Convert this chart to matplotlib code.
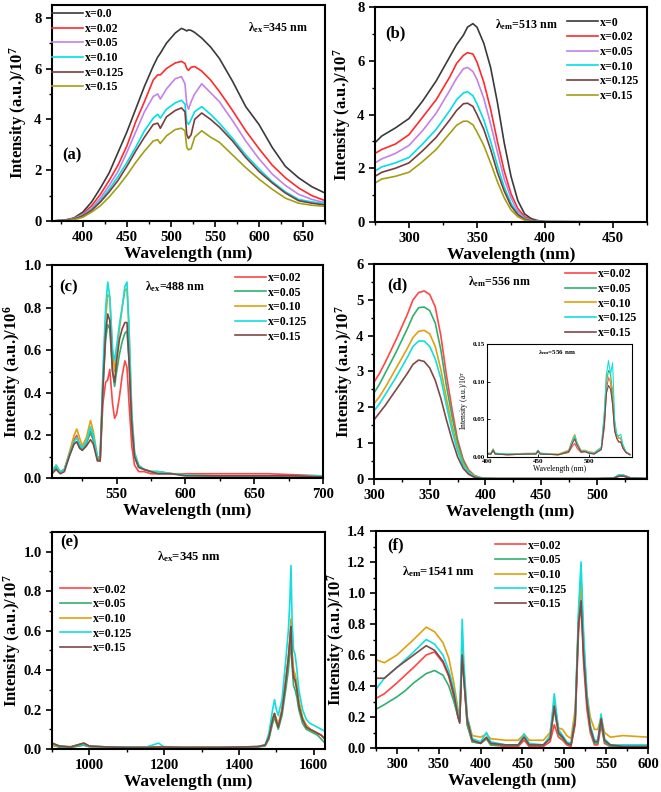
import numpy as np
import matplotlib
matplotlib.use("Agg")
import matplotlib.pyplot as plt
from matplotlib.ticker import AutoMinorLocator, MultipleLocator

plt.rcParams["font.family"] = ["Liberation Serif", "DejaVu Serif"]
plt.rcParams["font.weight"] = "bold"
plt.rcParams["axes.labelweight"] = "bold"
plt.rcParams["mathtext.fontset"] = "custom"
plt.rcParams["mathtext.rm"] = "Liberation Serif:bold"
plt.rcParams["mathtext.bf"] = "Liberation Serif:bold"
plt.rcParams["mathtext.it"] = "Liberation Serif:bold"
plt.rcParams["mathtext.default"] = "bf"

# ---------------- (a) emission, lambda_ex = 345 nm ----------------
a_wl = [365, 380, 390, 400, 410, 420, 430, 440, 450, 460, 470, 480, 485, 488, 495, 505, 512,
        516, 518, 520, 523, 527, 535, 545, 555, 570, 585, 600, 615, 630, 645, 660, 675]
a_x000 = [0.0, 0.04, 0.12, 0.35, 0.75, 1.3, 1.9, 2.7, 3.5, 4.4, 5.3, 6.1, 6.45, 6.6, 7.0, 7.4, 7.58,
          7.52, 7.48, 7.52, 7.5, 7.42, 7.2, 6.85, 6.4, 5.5, 4.5, 3.8, 2.9, 2.15, 1.7, 1.35, 1.1]
a_x002 = [0.0, 0.03, 0.1, 0.28, 0.6, 1.05, 1.6, 2.2, 2.95, 3.9, 4.7, 5.55, 5.75, 5.75, 6.0, 6.22, 6.28,
          6.2, 6.0, 5.93, 6.05, 6.08, 5.9, 5.55, 5.1, 4.35, 3.55, 2.85, 2.2, 1.7, 1.3, 1.0, 0.8]
a_x005 = [0.0, 0.03, 0.09, 0.25, 0.5, 0.9, 1.4, 1.95, 2.7, 3.5, 4.3, 4.9, 5.0, 4.8, 5.2, 5.6, 5.68,
          5.4, 4.6, 4.4, 4.7, 5.0, 5.4, 5.05, 4.7, 3.95, 3.15, 2.45, 1.85, 1.4, 1.05, 0.85, 0.72]
a_x010 = [0.0, 0.02, 0.08, 0.22, 0.45, 0.8, 1.25, 1.75, 2.3, 2.9, 3.55, 4.05, 4.2, 4.05, 4.4, 4.65, 4.75,
          4.6, 3.9, 3.8, 4.0, 4.3, 4.5, 4.2, 3.85, 3.25, 2.6, 2.05, 1.55, 1.15, 0.85, 0.75, 0.68]
a_x0125 = [0.0, 0.02, 0.07, 0.2, 0.42, 0.75, 1.15, 1.6, 2.15, 2.75, 3.3, 3.8, 3.85, 3.65, 4.1, 4.35, 4.45,
           4.3, 3.4, 3.25, 3.4, 4.0, 4.25, 4.0, 3.7, 3.15, 2.5, 1.95, 1.5, 1.1, 0.8, 0.7, 0.63]
a_x015 = [0.0, 0.01, 0.05, 0.15, 0.35, 0.6, 0.95, 1.35, 1.8, 2.3, 2.75, 3.15, 3.2, 3.05, 3.35, 3.6, 3.65,
          3.55, 2.9, 2.8, 2.85, 3.3, 3.55, 3.3, 3.1, 2.6, 2.1, 1.65, 1.25, 0.9, 0.7, 0.62, 0.58]
a_labels = ["x=0.0", "x=0.02", "x=0.05", "x=0.10", "x=0.125", "x=0.15"]

# ---------------- (b) excitation, lambda_em = 513 nm ----------------
b_wl = [275, 280, 290, 300, 310, 320, 330, 335, 340, 343, 347, 350, 355, 360, 365, 370, 375,
        380, 385, 390, 395, 400, 475]
b_x0 = [2.95, 3.2, 3.5, 3.85, 4.5, 5.25, 6.15, 6.6, 6.95, 7.25, 7.38, 7.25, 6.65, 5.75, 4.45, 2.95, 1.7,
        0.8, 0.3, 0.12, 0.05, 0.02, 0.0]
b_x002 = [2.55, 2.7, 2.9, 3.25, 3.9, 4.55, 5.4, 5.9, 6.2, 6.3, 6.25, 5.95, 5.2, 4.2, 3.0, 1.9, 1.05,
          0.5, 0.2, 0.07, 0.03, 0.01, 0.0]
b_x005 = [2.2, 2.35, 2.55, 2.85, 3.4, 4.05, 4.9, 5.35, 5.7, 5.75, 5.6, 5.3, 4.6, 3.65, 2.6, 1.6, 0.9,
          0.4, 0.15, 0.05, 0.02, 0.01, 0.0]
b_x010 = [1.9, 2.05, 2.2, 2.4, 2.9, 3.45, 4.15, 4.55, 4.8, 4.85, 4.7, 4.4, 3.8, 3.0, 2.1, 1.3, 0.7,
          0.3, 0.12, 0.04, 0.02, 0.01, 0.0]
b_x0125 = [1.7, 1.85, 2.0, 2.2, 2.65, 3.15, 3.8, 4.15, 4.4, 4.42, 4.3, 4.0, 3.45, 2.7, 1.85, 1.15, 0.6,
           0.27, 0.1, 0.03, 0.01, 0.0, 0.0]
b_x015 = [1.45, 1.6, 1.7, 1.85, 2.25, 2.7, 3.3, 3.6, 3.75, 3.75, 3.62, 3.35, 2.85, 2.2, 1.5, 0.9, 0.45,
          0.2, 0.07, 0.02, 0.01, 0.0, 0.0]
b_labels = ["x=0", "x=0.02", "x=0.05", "x=0.10", "x=0.125", "x=0.15"]

# ---------------- (c) emission, lambda_ex = 488 nm ----------------
c_wl = [503, 506, 509, 512, 516, 519, 521, 523, 525, 528, 531, 533, 536, 538, 540, 542, 543.5, 545,
        547, 548.5, 550, 552, 554, 556, 557.5, 559, 561, 563, 566, 570, 575, 580, 590, 600, 620, 640,
        660, 680, 700]
c_x002 = [0.03, 0.05, 0.03, 0.04, 0.12, 0.18, 0.2, 0.16, 0.14, 0.17, 0.21, 0.18, 0.09, 0.08, 0.35, 0.45,
          0.46, 0.51, 0.35, 0.28, 0.3, 0.38, 0.48, 0.55, 0.52, 0.35, 0.15, 0.06, 0.03, 0.03, 0.02, 0.02,
          0.02, 0.02, 0.02, 0.02, 0.02, 0.015, 0.01]
c_x005 = [0.03, 0.05, 0.03, 0.04, 0.11, 0.16, 0.17, 0.15, 0.13, 0.16, 0.22, 0.18, 0.09, 0.09, 0.42, 0.65,
          0.72, 0.7, 0.5, 0.43, 0.5, 0.58, 0.64, 0.68, 0.69, 0.55, 0.25, 0.1, 0.05, 0.04, 0.03, 0.03,
          0.02, 0.015, 0.01, 0.01, 0.01, 0.01, 0.01]
c_x010 = [0.03, 0.06, 0.03, 0.04, 0.13, 0.2, 0.23, 0.19, 0.15, 0.19, 0.27, 0.22, 0.1, 0.09, 0.45, 0.75,
          0.86, 0.85, 0.6, 0.5, 0.58, 0.7, 0.8, 0.88, 0.89, 0.7, 0.3, 0.12, 0.06, 0.04, 0.03, 0.03,
          0.02, 0.015, 0.01, 0.01, 0.01, 0.01, 0.01]
c_x0125 = [0.03, 0.06, 0.03, 0.04, 0.12, 0.17, 0.19, 0.16, 0.14, 0.17, 0.24, 0.2, 0.1, 0.1, 0.5, 0.8,
           0.92, 0.85, 0.6, 0.55, 0.62, 0.72, 0.8, 0.9, 0.92, 0.7, 0.3, 0.12, 0.06, 0.04, 0.03, 0.03,
           0.02, 0.015, 0.01, 0.01, 0.01, 0.01, 0.01]
c_x015 = [0.02, 0.04, 0.02, 0.03, 0.11, 0.16, 0.17, 0.14, 0.13, 0.15, 0.18, 0.16, 0.08, 0.08, 0.42, 0.68,
          0.77, 0.74, 0.5, 0.45, 0.55, 0.65, 0.7, 0.73, 0.73, 0.55, 0.25, 0.1, 0.05, 0.04, 0.03, 0.02,
          0.02, 0.01, 0.01, 0.01, 0.01, 0.01, 0.005]
cdef_labels = ["x=0.02", "x=0.05", "x=0.10", "x=0.125", "x=0.15"]

# ---------------- (d) excitation, lambda_em = 556 nm ----------------
d_wl = [300, 305, 310, 320, 330, 335, 340, 345, 350, 355, 360, 365, 370, 375, 380, 385, 390, 395,
        400, 410, 450, 480, 500, 515, 520, 524, 530, 545]
d_x002 = [2.7, 2.95, 3.25, 3.9, 4.6, 5.0, 5.2, 5.25, 5.15, 4.8, 4.0, 2.9, 1.95, 1.1, 0.55, 0.25, 0.1,
          0.04, 0.02, 0.01, 0.01, 0.01, 0.01, 0.02, 0.1, 0.1, 0.03, 0.01]
d_x005 = [2.4, 2.65, 2.95, 3.55, 4.2, 4.55, 4.78, 4.8, 4.7, 4.35, 3.6, 2.6, 1.75, 1.0, 0.5, 0.22, 0.09,
          0.04, 0.02, 0.01, 0.01, 0.01, 0.01, 0.02, 0.1, 0.09, 0.03, 0.01]
d_x010 = [2.1, 2.3, 2.55, 3.1, 3.65, 3.95, 4.12, 4.15, 4.05, 3.7, 3.05, 2.25, 1.5, 0.85, 0.42, 0.19,
          0.08, 0.03, 0.02, 0.01, 0.01, 0.01, 0.01, 0.02, 0.1, 0.1, 0.03, 0.01]
d_x0125 = [1.9, 2.1, 2.35, 2.85, 3.4, 3.7, 3.85, 3.85, 3.7, 3.35, 2.8, 2.05, 1.35, 0.78, 0.38, 0.17,
           0.07, 0.03, 0.02, 0.01, 0.01, 0.01, 0.01, 0.02, 0.12, 0.1, 0.03, 0.01]
d_x015 = [1.65, 1.85, 2.05, 2.5, 2.95, 3.2, 3.32, 3.28, 3.1, 2.75, 2.25, 1.65, 1.1, 0.62, 0.3, 0.13,
          0.05, 0.02, 0.01, 0.01, 0.01, 0.01, 0.01, 0.02, 0.08, 0.08, 0.02, 0.01]

# inset of (d)
ins_wl = [400, 404, 406, 408, 420, 440, 448, 450, 452, 470, 480, 484, 486, 488, 492, 496, 500, 505,
          512, 515, 517, 519, 521, 523, 525, 527, 529, 531, 533, 536, 540]
ins_x002 = [0.004, 0.004, 0.009, 0.004, 0.003, 0.004, 0.004, 0.008, 0.004, 0.003, 0.006, 0.015, 0.018,
            0.012, 0.006, 0.007, 0.005, 0.004, 0.01, 0.04, 0.09, 0.105, 0.1, 0.07, 0.035, 0.025, 0.02,
            0.02, 0.012, 0.006, 0.003]
ins_x005 = [0.004, 0.004, 0.01, 0.004, 0.003, 0.004, 0.004, 0.008, 0.004, 0.003, 0.008, 0.022, 0.027,
            0.018, 0.008, 0.008, 0.006, 0.005, 0.012, 0.05, 0.1, 0.115, 0.11, 0.08, 0.04, 0.03, 0.025,
            0.025, 0.015, 0.007, 0.003]
ins_x010 = [0.005, 0.005, 0.011, 0.005, 0.004, 0.005, 0.005, 0.009, 0.005, 0.004, 0.009, 0.025, 0.03,
            0.02, 0.009, 0.009, 0.007, 0.006, 0.013, 0.06, 0.11, 0.105, 0.1, 0.09, 0.045, 0.03, 0.025,
            0.025, 0.015, 0.007, 0.004]
ins_x0125 = [0.005, 0.005, 0.01, 0.005, 0.004, 0.004, 0.005, 0.009, 0.005, 0.003, 0.008, 0.022, 0.028,
             0.019, 0.008, 0.008, 0.006, 0.005, 0.013, 0.06, 0.11, 0.128, 0.11, 0.125, 0.05, 0.03,
             0.028, 0.03, 0.017, 0.007, 0.003]
ins_x015 = [0.004, 0.004, 0.009, 0.004, 0.003, 0.004, 0.004, 0.008, 0.004, 0.003, 0.007, 0.019, 0.024,
            0.016, 0.007, 0.007, 0.005, 0.004, 0.01, 0.045, 0.085, 0.095, 0.09, 0.07, 0.035, 0.025,
            0.02, 0.02, 0.012, 0.006, 0.003]

# ---------------- (e) NIR emission, lambda_ex = 345 nm ----------------
e_wl = [900, 920, 950, 985, 1000, 1050, 1100, 1150, 1185, 1200, 1250, 1300, 1350, 1400, 1450, 1470,
        1480, 1490, 1495, 1500, 1505, 1515, 1525, 1532, 1536, 1539, 1542, 1546, 1550, 1555, 1560,
        1570, 1580, 1590, 1600, 1610, 1620, 1630]
e_x002 = [0.02, 0.01, 0.01, 0.02, 0.012, 0.01, 0.008, 0.008, 0.01, 0.01, 0.008, 0.008, 0.008, 0.01,
          0.012, 0.02, 0.06, 0.15, 0.18, 0.15, 0.12, 0.2, 0.35, 0.45, 0.55, 0.63, 0.48, 0.38, 0.35,
          0.3, 0.23, 0.15, 0.12, 0.1, 0.09, 0.08, 0.07, 0.05]
e_x005 = [0.02, 0.01, 0.008, 0.02, 0.012, 0.008, 0.008, 0.008, 0.01, 0.01, 0.008, 0.008, 0.008, 0.008,
          0.01, 0.015, 0.05, 0.13, 0.16, 0.13, 0.1, 0.17, 0.3, 0.4, 0.48, 0.55, 0.42, 0.32, 0.3, 0.26,
          0.2, 0.13, 0.1, 0.09, 0.08, 0.07, 0.05, 0.03]
e_x010 = [0.02, 0.015, 0.012, 0.03, 0.015, 0.01, 0.008, 0.01, 0.01, 0.012, 0.008, 0.01, 0.008, 0.01,
          0.012, 0.02, 0.06, 0.15, 0.18, 0.15, 0.12, 0.2, 0.35, 0.47, 0.55, 0.66, 0.5, 0.4, 0.38,
          0.33, 0.25, 0.16, 0.12, 0.1, 0.09, 0.08, 0.07, 0.05]
e_x0125 = [0.03, 0.015, 0.01, 0.025, 0.015, 0.01, 0.01, 0.008, 0.03, 0.01, 0.008, 0.008, 0.008, 0.01,
           0.012, 0.02, 0.08, 0.2, 0.25, 0.2, 0.17, 0.25, 0.45, 0.6, 0.75, 0.93, 0.65, 0.5, 0.48, 0.4,
           0.3, 0.2, 0.15, 0.13, 0.12, 0.11, 0.1, 0.09]
e_x015 = [0.03, 0.015, 0.01, 0.03, 0.015, 0.01, 0.008, 0.008, 0.01, 0.01, 0.008, 0.008, 0.008, 0.01,
          0.012, 0.02, 0.06, 0.15, 0.18, 0.14, 0.11, 0.19, 0.34, 0.46, 0.55, 0.62, 0.45, 0.36, 0.35,
          0.3, 0.22, 0.15, 0.11, 0.1, 0.09, 0.08, 0.07, 0.05]

# ---------------- (f) excitation, lambda_em = 1541 nm ----------------
f_wl = [275, 285, 300, 310, 320, 335, 345, 355, 362, 368, 373, 375, 378, 380, 384, 390, 400, 407, 412,
        430, 445, 452, 458, 475, 483, 488, 493, 498, 503, 508, 513, 517, 520, 523, 527, 531, 536, 540,
        544, 548, 555, 570, 600]
f_x002 = [0.32, 0.35, 0.42, 0.47, 0.52, 0.6, 0.62, 0.55, 0.46, 0.33, 0.2, 0.17, 0.65, 0.45, 0.15, 0.04,
          0.03, 0.06, 0.02, 0.01, 0.01, 0.05, 0.01, 0.01, 0.04, 0.15, 0.07, 0.05, 0.02, 0.01, 0.15,
          0.75, 0.95, 0.55, 0.25, 0.1, 0.02, 0.02, 0.15, 0.03, 0.01, 0.01, 0.01]
f_x005 = [0.25, 0.28, 0.33, 0.37, 0.42, 0.48, 0.5, 0.47, 0.4, 0.3, 0.2, 0.17, 0.65, 0.45, 0.15, 0.04,
          0.03, 0.06, 0.02, 0.02, 0.02, 0.07, 0.02, 0.02, 0.06, 0.25, 0.09, 0.06, 0.03, 0.02, 0.18,
          0.85, 1.1, 0.65, 0.3, 0.12, 0.03, 0.03, 0.17, 0.04, 0.01, 0.01, 0.01]
f_x010 = [0.57, 0.55, 0.6, 0.65, 0.7, 0.78, 0.75, 0.68, 0.58, 0.42, 0.25, 0.2, 0.62, 0.5, 0.2, 0.08,
          0.07, 0.09, 0.06, 0.05, 0.05, 0.09, 0.05, 0.05, 0.1, 0.3, 0.13, 0.12, 0.08, 0.06, 0.25, 0.8,
          1.05, 0.7, 0.35, 0.2, 0.12, 0.12, 0.2, 0.1, 0.07, 0.08, 0.07]
f_x0125 = [0.38, 0.45, 0.52, 0.57, 0.62, 0.7, 0.67, 0.6, 0.5, 0.38, 0.22, 0.18, 0.83, 0.55, 0.2, 0.06,
           0.04, 0.1, 0.04, 0.02, 0.02, 0.09, 0.03, 0.02, 0.08, 0.35, 0.12, 0.08, 0.04, 0.03, 0.2, 0.9,
           1.2, 0.75, 0.35, 0.15, 0.05, 0.05, 0.22, 0.06, 0.02, 0.02, 0.02]
f_x015 = [0.45, 0.45, 0.52, 0.56, 0.6, 0.66, 0.63, 0.56, 0.47, 0.35, 0.2, 0.16, 0.6, 0.45, 0.18, 0.05,
          0.03, 0.07, 0.03, 0.02, 0.02, 0.07, 0.02, 0.02, 0.06, 0.27, 0.1, 0.07, 0.03, 0.02, 0.18, 0.8,
          0.95, 0.6, 0.3, 0.13, 0.04, 0.04, 0.19, 0.05, 0.02, 0.01, 0.01]

ab_colors = ["#3a3a3a", "#ff2a2a", "#c282e6", "#00dfe6", "#7c3c3c", "#a29f14"]
cdef_colors = ["#ff4545", "#2fb070", "#e0a010", "#12dede", "#804848"]

FS_TICK = 10.5
FS_LAB = 12.5
FS_YLAB = 12
FS_LEG = 8.6


def style_axis(ax, xlim, ylim, xmaj, ymaj, ylabel, ylab_x, yfmt=None):
    ax.set_xlim(*xlim)
    ax.set_ylim(*ylim)
    ax.xaxis.set_major_locator(MultipleLocator(xmaj))
    ax.yaxis.set_major_locator(MultipleLocator(ymaj))
    ax.xaxis.set_minor_locator(AutoMinorLocator(2))
    ax.yaxis.set_minor_locator(AutoMinorLocator(2))
    ax.tick_params(which="major", direction="out", length=4, width=1.2, labelsize=FS_TICK)
    ax.tick_params(which="minor", direction="out", length=2.5, width=1.0)
    for s in ax.spines.values():
        s.set_linewidth(1.5)
    if yfmt:
        ax.yaxis.set_major_formatter(plt.FormatStrFormatter(yfmt))
    ax.set_xlabel("Wavelength (nm)", fontsize=FS_LAB, labelpad=1)
    ax.set_ylabel(ylabel, fontsize=FS_YLAB)
    # x given as the right edge of the rotated label, in axes units
    ax.yaxis.set_label_coords(ylab_x, 0.5)


def add_legend(ax, x, y):
    ax.legend(loc="upper left", bbox_to_anchor=(x, y), frameon=False, fontsize=FS_LEG,
              handlelength=2.6, handletextpad=0.15, labelspacing=0.22, borderpad=0,
              borderaxespad=0)


fig = plt.figure(figsize=(6.61, 7.92), dpi=100)
W, H = 661, 792


def make_axes(l, t, r, b):
    return fig.add_axes([l / W, 1 - b / H, (r - l) / W, (b - t) / H])


# (a)
ax = make_axes(52, 5, 325, 221)
for ys, c, lab in zip([a_x000, a_x002, a_x005, a_x010, a_x0125, a_x015], ab_colors, a_labels):
    ax.plot(a_wl, ys, color=c, lw=1.2, label=lab)
style_axis(ax, (365, 675), (0, 8.5), 50, 2, "Intensity (a.u.)/10$^{7}$", -0.085)
add_legend(ax, 0.0, 0.985)
ax.text(0.718, 0.894, "λ$_{ex}$=345 nm", transform=ax.transAxes, fontsize=FS_LEG, va="center")
ax.text(0.037, 0.305, "(a)", transform=ax.transAxes, fontsize=12, va="center")

# (b)
ax = make_axes(375, 7, 647, 222)
for ys, c, lab in zip([b_x0, b_x002, b_x005, b_x010, b_x0125, b_x015], ab_colors, b_labels):
    ax.plot(b_wl, ys, color=c, lw=1.2, label=lab)
style_axis(ax, (275, 475), (0, 8), 50, 2, "Intensity (a.u.)/10$^{7}$", -0.08)
add_legend(ax, 0.706, 0.955)
ax.text(0.441, 0.916, "λ$_{em}$=513 nm", transform=ax.transAxes, fontsize=FS_LEG, va="center")
ax.text(0.037, 0.879, "(b)", transform=ax.transAxes, fontsize=12, va="center")

# (c)
ax = make_axes(52, 265, 323, 478)
for ys, c, lab in zip([c_x002, c_x005, c_x010, c_x0125, c_x015], cdef_colors, cdef_labels):
    ax.plot(c_wl, ys, color=c, lw=1.2, label=lab)
style_axis(ax, (503, 700), (0, 1.0), 50, 0.2, "Intensity (a.u.)/10$^{6}$", -0.106, "%.1f")
add_legend(ax, 0.675, 0.967)
ax.text(0.343, 0.897, "λ$_{ex}$=488 nm", transform=ax.transAxes, fontsize=FS_LEG, va="center")
ax.text(0.026, 0.897, "(c)", transform=ax.transAxes, fontsize=12, va="center")

# (d)
ax = make_axes(374, 264, 647, 479)
for ys, c, lab in zip([d_x002, d_x005, d_x010, d_x0125, d_x015], cdef_colors, cdef_labels):
    ax.plot(d_wl, ys, color=c, lw=1.2, label=lab)
style_axis(ax, (300, 545), (0, 6), 50, 1, "Intensity (a.u.)/10$^{7}$", -0.07)
add_legend(ax, 0.70, 0.98)
ax.text(0.344, 0.916, "λ$_{em}$=556 nm", transform=ax.transAxes, fontsize=FS_LEG, va="center")
ax.text(0.048, 0.902, "(d)", transform=ax.transAxes, fontsize=12, va="center")

ins = make_axes(487, 344, 632, 457)
for ys, c in zip([ins_x002, ins_x005, ins_x010, ins_x0125, ins_x015], cdef_colors):
    ins.plot(ins_wl, ys, color=c, lw=0.8)
ins.set_xlim(400, 542)
ins.set_ylim(0, 0.15)
ins.xaxis.set_major_locator(MultipleLocator(50))
ins.yaxis.set_major_locator(MultipleLocator(0.05))
ins.yaxis.set_major_formatter(plt.FormatStrFormatter("%.2f"))
ins.tick_params(direction="in", length=2, width=0.6, labelsize=5, pad=1.5)
for s in ins.spines.values():
    s.set_linewidth(0.8)
ins.set_xlabel("Wavelength (nm)", fontsize=5.5, labelpad=0.5, fontweight="normal")
ins.set_ylabel("Intensity (a.u.)/10$^{7}$", fontsize=5.5, labelpad=1.5, fontweight="normal")
ins.text(0.35, 0.92, "λ$_{em}$=556 nm", transform=ins.transAxes, fontsize=5, va="center")

# (e)
ax = make_axes(52, 532, 325, 749)
for ys, c, lab in zip([e_x002, e_x005, e_x010, e_x0125, e_x015], cdef_colors, cdef_labels):
    ax.plot(e_wl, ys, color=c, lw=1.2, label=lab)
style_axis(ax, (900, 1630), (0, 1.1), 200, 0.2, "Intensity (a.u.)/10$^{7}$", -0.106, "%.1f")
add_legend(ax, 0.029, 0.762)
ax.text(0.385, 0.885, "λ$_{ex}$=345 nm", transform=ax.transAxes, fontsize=FS_LEG + 0.5, va="center")
ax.text(0.03, 0.95, "(e)", transform=ax.transAxes, fontsize=12, va="center")

# (f)
ax = make_axes(376, 531, 648, 748)
for ys, c, lab in zip([f_x002, f_x005, f_x010, f_x0125, f_x015], cdef_colors, cdef_labels):
    ax.plot(f_wl, ys, color=c, lw=1.2, label=lab)
style_axis(ax, (275, 600), (0, 1.4), 50, 0.2, "Intensity (a.u.)/10$^{7}$", -0.108, "%.1f")
add_legend(ax, 0.4375, 0.96)
ax.text(0.096, 0.811, "λ$_{em}$=1541 nm", transform=ax.transAxes, fontsize=FS_LEG + 0.5, va="center")
ax.text(0.04, 0.935, "(f)", transform=ax.transAxes, fontsize=12, va="center")

fig.savefig("out.png", dpi=100)
